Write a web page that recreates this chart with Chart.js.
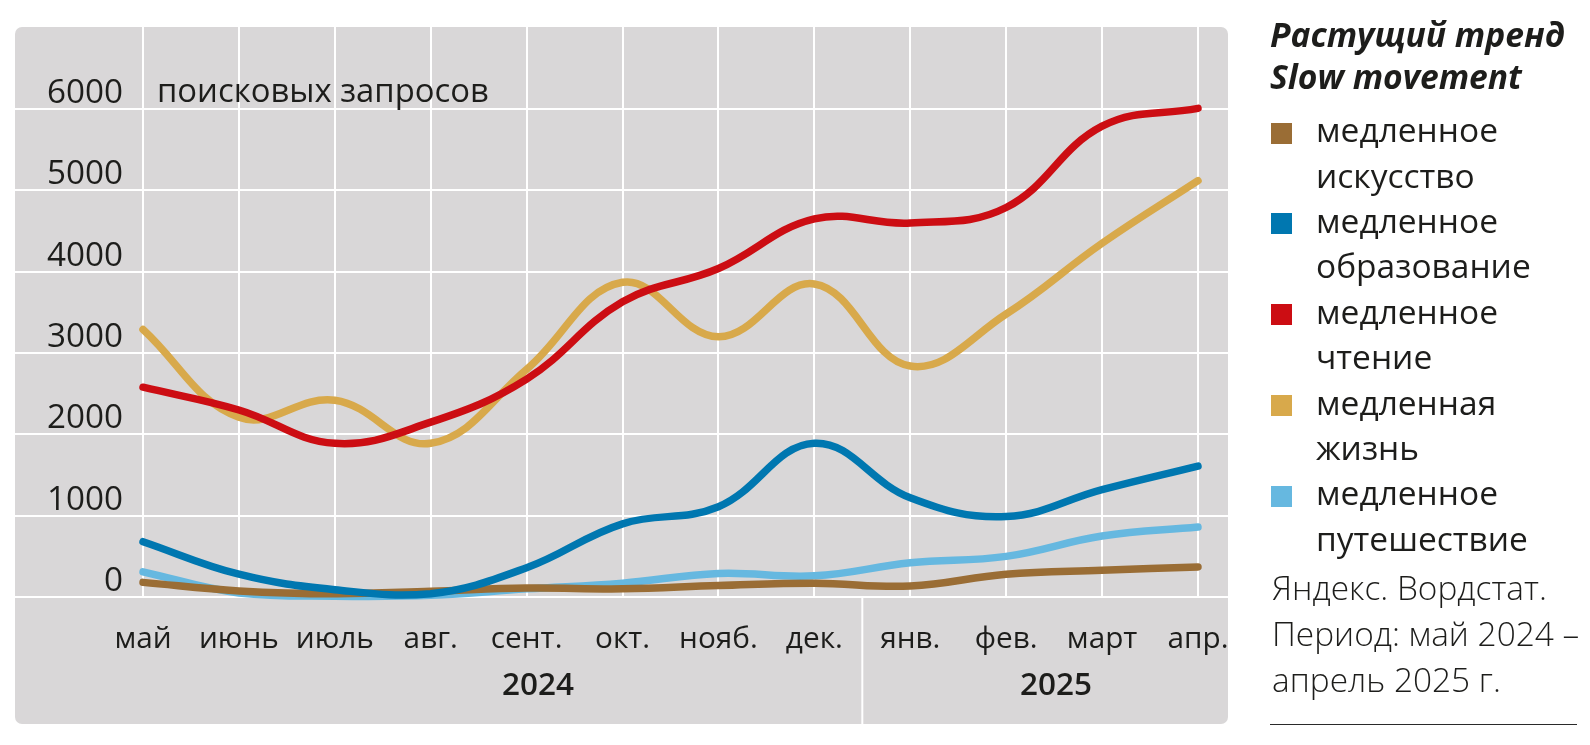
<!DOCTYPE html>
<html><head><meta charset="utf-8">
<script src="https://cdn.jsdelivr.net/npm/chart.js@4"></script>
<style>
html,body{margin:0;padding:0;background:#fff;}
#wrap{position:relative;width:1590px;height:745px;overflow:hidden;}
#c{position:absolute;left:0;top:0;}
.t{position:absolute;white-space:nowrap;color:#1d1d1b;font-family:"Open Sans";}
.sq{position:absolute;width:21px;height:21px;}
.rule{position:absolute;left:1270px;top:724px;width:307px;height:0;border-top:1.5px solid #2a2a2a;}
</style></head><body>
<div id="wrap"><canvas id="c" width="1590" height="745" style="width:1590px;height:745px"></canvas><div id="legend"></div></div>
<script>
// ---------- data ----------
const months = ['май','июнь','июль','авг.','сент.','окт.','нояб.','дек.','янв.','фев.','март','апр.'];
const years = ['2024','2025'];
const yTicks = [0,1000,2000,3000,4000,5000,6000];
const unitLabel = 'поисковых запросов';

const artValues     = [180, 75, 40, 70, 110, 100, 140, 170, 135, 280, 330, 370];
const eduValues     = [680, 280, 90, 40, 360, 900, 1110, 1890, 1220, 990, 1320, 1610];
const readingValues = [2580, 2300, 1890, 2150, 2680, 3630, 4040, 4650, 4600, 4790, 5790, 6010];
const lifeValues    = [3290, 2210, 2420, 1890, 2800, 3870, 3200, 3850, 2840, 3480, 4350, 5120];
const travelValues  = [310, 50, 10, 20, 100, 170, 290, 260, 420, 500, 750, 860];

const seriesLabels = [
  ['медленное','искусство'],
  ['медленное','образование'],
  ['медленное','чтение'],
  ['медленная','жизнь'],
  ['медленное','путешествие']
];
const legendTitle = ['Растущий тренд','Slow movement'];
const sourceLines = ['Яндекс. Вордстат.','Период: май 2024 –','апрель 2025 г.'];

// ---------- styles ----------
const COLORS = ['#9a6d35','#0077b0','#cc0d13','#d8a94b','#66b8e0'];
const FAM = '"Open Sans", "Noto Sans", sans-serif';
const mctx = document.createElement('canvas').getContext('2d');
function fit(text, target, weight, style){
  mctx.font = (style||'normal') + ' ' + (weight||'400') + ' 100px ' + FAM;
  return 100 * target / mctx.measureText(text).width;
}
const unitSize = fit(unitLabel, 332);
const ySize = fit('6000', 76);
const xSize = fit('июнь', 80);
const yearSize = fit('2024', 72, '600');
const legSize = fit('медленное', 182);
const titleSize = fit('Растущий тренд', 295, '700', 'italic');
const srcSize = fit('Яндекс. Вордстат.', 275, '300');
const TEXT = '#1d1d1b';
const PANEL_BOTTOM = 724;
const X_MIN = -(143-15)/95.9, X_MAX = 11 + (1228-1198)/95.9;

const panelPlugin = {
  id: 'panel',
  beforeDraw(chart){
    const {ctx, chartArea: a} = chart;
    ctx.save();
    ctx.fillStyle = '#d9d7d8';
    ctx.beginPath();
    ctx.roundRect(a.left, a.top, a.right - a.left, PANEL_BOTTOM - a.top, 7);
    ctx.fill();
    ctx.restore();
  },
  afterDraw(chart){
    const {ctx, scales: {x, y}} = chart;
    ctx.save();
    // year separator
    const sx = x.getPixelForValue(7.5);
    ctx.strokeStyle = '#fff'; ctx.lineWidth = 2;
    ctx.beginPath(); ctx.moveTo(sx, y.getPixelForValue(0)); ctx.lineTo(sx, PANEL_BOTTOM); ctx.stroke();
    // y labels
    ctx.fillStyle = TEXT;
    ctx.textBaseline = 'alphabetic';
    ctx.font = '400 ' + ySize + 'px ' + FAM;
    ctx.textAlign = 'right';
    yTicks.forEach(v => ctx.fillText(String(v), 123, y.getPixelForValue(v) - 6));
    ctx.textAlign = 'left';
    ctx.font = '400 ' + unitSize + 'px ' + FAM;
    ctx.fillText(unitLabel, 157, y.getPixelForValue(6000) - 7);
    // years
    ctx.textAlign = 'center';
    ctx.font = '600 ' + yearSize + 'px ' + FAM;
    ctx.fillText(years[0], 538, 695);
    ctx.fillText(years[1], 1056, 695);
    ctx.restore();
  }
};

const mk = (values, i, order) => ({
  label: seriesLabels[i].join(' '),
  data: values.map((v, k) => ({x: k, y: v})),
  borderColor: COLORS[i],
  backgroundColor: COLORS[i],
  borderWidth: 7.5,
  borderCapStyle: 'round',
  borderJoinStyle: 'round',
  pointRadius: 0,
  tension: 0.4,
  clip: false,
  order: order
});

new Chart(document.getElementById('c'), {
  type: 'line',
  data: { datasets: [
    mk(artValues, 0, 3),
    mk(eduValues, 1, 1),
    mk(readingValues, 2, 0),
    mk(lifeValues, 3, 2),
    mk(travelValues, 4, 4)
  ]},
  options: {
    responsive: false,
    animation: false,
    devicePixelRatio: 1,
    layout: { padding: { left: 15, top: 27, right: 1590 - 1228, bottom: 0 } },
    plugins: { legend: { display: false }, tooltip: { enabled: false } },
    scales: {
      x: {
        type: 'linear', min: X_MIN, max: X_MAX,
        afterBuildTicks: s => { s.ticks = months.map((_, i) => ({value: i})); },
        afterFit: s => { s.height = 745 - 597; },
        grid: { color: '#ffffff', lineWidth: 2, drawTicks: false },
        border: { display: false },
        ticks: { callback: v => months[v], font: { family: FAM, size: xSize }, color: TEXT, padding: 25, maxRotation: 0, autoSkip: false }
      },
      y: {
        min: 0, max: 7010,
        afterBuildTicks: s => { s.ticks = yTicks.map(v => ({value: v})); },
        grid: { color: '#ffffff', lineWidth: 2, drawTicks: false },
        border: { display: false },
        ticks: { display: false }
      }
    }
  },
  plugins: [panelPlugin]
});

// ---------- legend (HTML text) ----------
const L = document.getElementById('legend');
function addText(text, x, baseline, size, weight, style){
  const d = document.createElement('div');
  d.className = 't';
  d.textContent = text;
  d.style.left = x + 'px';
  d.style.fontSize = size + 'px';
  d.style.lineHeight = size + 'px';
  d.style.fontWeight = weight || '400';
  d.style.fontStyle = style || 'normal';
  d.style.top = (baseline - 0.888 * size) + 'px';
  L.appendChild(d);
}
addText(legendTitle[0], 1270, 48, titleSize, '700', 'italic');
addText(legendTitle[1], 1270, 90, titleSize, '700', 'italic');
seriesLabels.forEach((lines, i) => {
  const c0 = 133 + 45.4 * (2 * i);
  const sq = document.createElement('div');
  sq.className = 'sq';
  sq.style.left = '1271px';
  sq.style.top = (c0 - 10.5) + 'px';
  sq.style.background = COLORS[i];
  L.appendChild(sq);
  lines.forEach((ln, j) => addText(ln, 1316, 133 + 45.4 * (2 * i + j) + 10, legSize));
});
sourceLines.forEach((ln, j) => addText(ln, 1272, 601 + 46 * j, srcSize, '300'));
const r = document.createElement('div'); r.className = 'rule'; L.appendChild(r);
</script>
</body></html>
